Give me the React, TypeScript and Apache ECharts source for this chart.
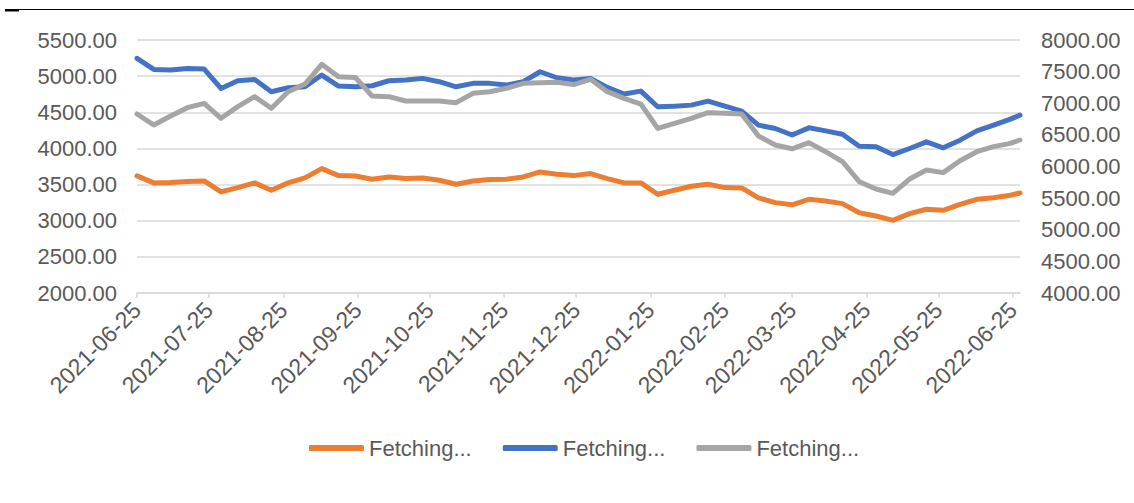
import React, { useEffect, useRef } from "react";
import * as echarts from "echarts";

const dates = [
  "2021-06-25", "2021-07-02", "2021-07-09", "2021-07-16", "2021-07-23", "2021-07-30",
  "2021-08-06", "2021-08-13", "2021-08-20", "2021-08-27", "2021-09-03", "2021-09-10",
  "2021-09-17", "2021-09-24", "2021-10-01", "2021-10-08", "2021-10-15", "2021-10-22",
  "2021-10-29", "2021-11-05", "2021-11-12", "2021-11-19", "2021-11-26", "2021-12-03",
  "2021-12-10", "2021-12-17", "2021-12-24", "2021-12-31", "2022-01-07", "2022-01-14",
  "2022-01-21", "2022-01-28", "2022-02-04", "2022-02-11", "2022-02-18", "2022-02-25",
  "2022-03-04", "2022-03-11", "2022-03-18", "2022-03-25", "2022-04-01", "2022-04-08",
  "2022-04-15", "2022-04-22", "2022-04-29", "2022-05-06", "2022-05-13", "2022-05-20",
  "2022-05-27", "2022-06-03", "2022-06-10", "2022-06-17", "2022-06-24", "2022-06-28",
];

const orangeValues = [
  3620, 3523, 3527, 3541, 3550, 3398, 3458, 3523, 3421, 3523, 3592, 3721, 3624,
  3618, 3573, 3606, 3583, 3592, 3560, 3504, 3550, 3569, 3573, 3606, 3675, 3643, 3624,
  3652, 3583, 3523, 3523, 3366, 3421, 3476, 3504, 3458, 3453, 3315, 3250, 3220,
  3296, 3273, 3236, 3111, 3065, 3005, 3098, 3158, 3144, 3227, 3296, 3319, 3352, 3384,
];

const blueValues = [
  5246, 5093, 5084, 5107, 5098, 4830, 4936, 4955, 4784, 4839, 4853, 5015, 4862,
  4853, 4867, 4936, 4946, 4969, 4923, 4853, 4900, 4900, 4876, 4923, 5061, 4978, 4946,
  4969, 4844, 4752, 4793, 4576, 4585, 4599, 4655, 4585, 4516, 4322, 4276, 4186,
  4285, 4243, 4197, 4031, 4022, 3915, 3999, 4091, 4008, 4114, 4243, 4322, 4405, 4460,
];

const grayValues = [
  6830, 6656, 6798, 6930, 6999, 6762, 6946, 7104, 6920, 7183, 7304, 7615, 7420,
  7407, 7115, 7104, 7036, 7036, 7036, 7009, 7157, 7183, 7236, 7315, 7325, 7331, 7295,
  7378, 7183, 7078, 6988, 6603, 6683, 6762, 6851, 6841, 6830, 6482, 6340, 6280,
  6377, 6234, 6076, 5760, 5644, 5576, 5802, 5945, 5903, 6092, 6234, 6314, 6366, 6419,
];

const seriesNames = ["Fetching...", "Fetching...", "Fetching..."];

const tickDates = [
  "2021-06-25", "2021-07-25", "2021-08-25", "2021-09-25", "2021-10-25", "2021-11-25",
  "2021-12-25", "2022-01-25", "2022-02-25", "2022-03-25", "2022-04-25", "2022-05-25",
  "2022-06-25",
];

function toTime(s: string): number {
  const [y, m, d] = s.split("-").map(Number);
  return new Date(y, m - 1, d).getTime();
}

function fmt(t: number): string {
  const d = new Date(t);
  const p = (n: number) => (n < 10 ? "0" + n : "" + n);
  return d.getFullYear() + "-" + p(d.getMonth() + 1) + "-" + p(d.getDate());
}

const FONT = "'Liberation Sans', Arial, sans-serif";
const TEXT = "#595959";
const GRID = "#D9D9D9";

export default function App() {
  const ref = useRef<HTMLDivElement>(null);
  useEffect(() => {
    document.body.style.margin = "0";
    if (!ref.current) return;
    const chart = echarts.init(ref.current, undefined, { renderer: "svg" });
    const times = dates.map(toTime);
    const ticks = tickDates.map(toTime);
    const mk = (vals: number[]) => times.map((t, i) => [t, vals[i]]);
    const lineStyle = (color: string) => ({ color, width: 5, cap: "round", join: "round" });
    chart.setOption({
      animation: false,
      backgroundColor: "#ffffff",
      textStyle: { fontFamily: FONT },
      grid: { left: 137, top: 40, width: 883, height: 253, containLabel: false },
      xAxis: {
        type: "value",
        min: times[0],
        max: times[times.length - 1],
        axisLine: { show: true, lineStyle: { color: GRID, width: 1.5 } },
        axisTick: { show: true, customValues: ticks, length: 5, lineStyle: { color: GRID, width: 1.5 } },
        splitLine: { show: false },
        axisLabel: {
          customValues: ticks,
          rotate: 45,
          margin: 13,
          color: TEXT,
          fontSize: 23,
          fontFamily: FONT,
          formatter: (v: number) => fmt(v),
          hideOverlap: false,
          showMinLabel: true,
          showMaxLabel: true,
        },
      },
      yAxis: [
        {
          type: "value",
          min: 2000,
          max: 5500,
          interval: 500,
          axisLine: { show: false },
          axisTick: { show: false },
          splitLine: { show: true, lineStyle: { color: GRID, width: 1.5 } },
          axisLabel: { color: TEXT, fontSize: 22, fontFamily: FONT, margin: 20, formatter: (v: number) => v.toFixed(2) },
        },
        {
          type: "value",
          min: 4000,
          max: 8000,
          interval: 500,
          position: "right",
          axisLine: { show: false },
          axisTick: { show: false },
          splitLine: { show: false },
          axisLabel: { color: TEXT, fontSize: 22, fontFamily: FONT, margin: 21, formatter: (v: number) => v.toFixed(2) },
        },
      ],
      legend: {
        left: 309,
        top: 437,
        padding: 0,
        itemWidth: 55,
        itemHeight: 6,
        itemGap: 31,
        icon: "roundRect",
        textStyle: { color: TEXT, fontSize: 22, fontFamily: FONT },
        data: [
          { name: seriesNames[0] + "\u200b" },
          { name: seriesNames[1] + "\u200b\u200b" },
          { name: seriesNames[2] + "\u200b\u200b\u200b" },
        ],
        formatter: (n: string) => n.replace(/\u200b/g, ""),
      },
      series: [
        {
          name: seriesNames[0] + "\u200b",
          type: "line",
          yAxisIndex: 0,
          data: mk(orangeValues),
          symbol: "none",
          color: "#ED7D31",
          lineStyle: lineStyle("#ED7D31"),
        },
        {
          name: seriesNames[1] + "\u200b\u200b",
          type: "line",
          yAxisIndex: 0,
          data: mk(blueValues),
          symbol: "none",
          color: "#4472C4",
          lineStyle: lineStyle("#4472C4"),
        },
        {
          name: seriesNames[2] + "\u200b\u200b\u200b",
          type: "line",
          yAxisIndex: 1,
          data: mk(grayValues),
          symbol: "none",
          color: "#A5A5A5",
          lineStyle: lineStyle("#A5A5A5"),
        },
      ],
      graphic: [
        { type: "rect", shape: { x: 5, y: 9, width: 1129, height: 1 }, style: { fill: "#000" }, silent: true },
        { type: "rect", shape: { x: 5, y: 9, width: 14, height: 2.5 }, style: { fill: "#000" }, silent: true },
      ],
    });
    return () => chart.dispose();
  }, []);
  return <div ref={ref} style={{ width: 1134, height: 503 }} />;
}
